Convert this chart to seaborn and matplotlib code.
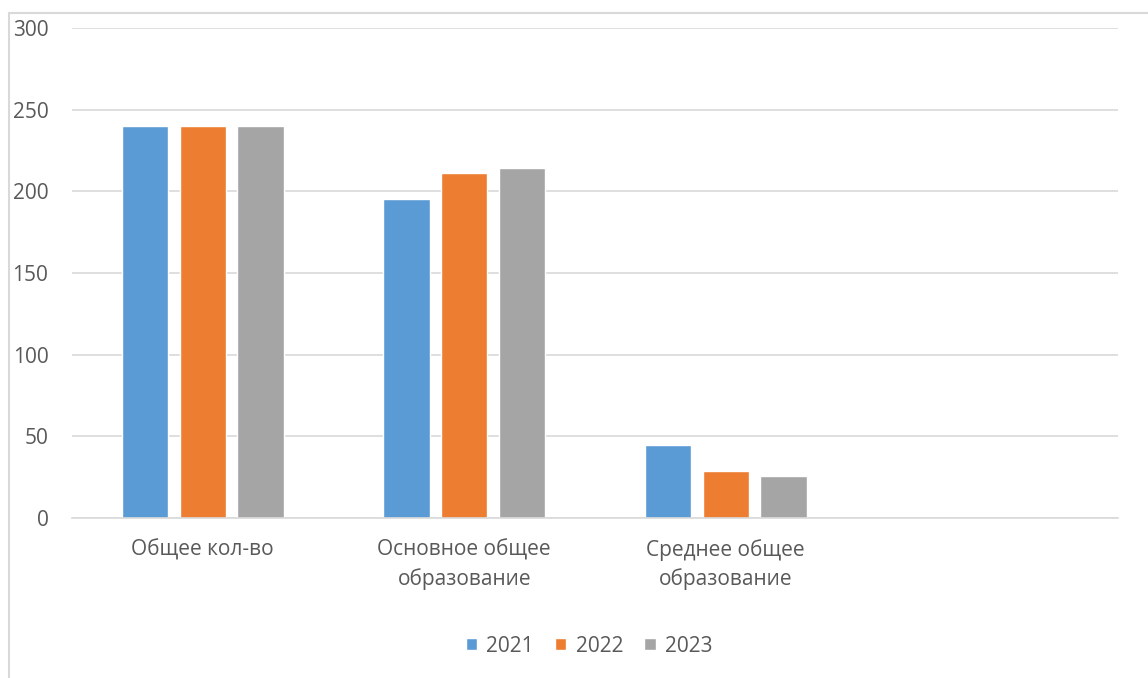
import pandas as pd
import seaborn as sns
import matplotlib.pyplot as plt
from matplotlib.lines import Line2D

categories = ["Общее кол-во", "Основное общее\nобразование", "Среднее общее\nобразование", ""]
years = ["2021", "2022", "2023"]
values_2021 = [240, 195, 45]
values_2022 = [240, 211, 29]
values_2023 = [240, 214, 26]
colors = ["#5b9bd5", "#ed7d31", "#a5a5a5"]

rows = []
for year, vals in zip(years, [values_2021, values_2022, values_2023]):
    for cat, v in zip(categories[:3], vals):
        rows.append({"category": cat, "year": year, "value": v})
df = pd.DataFrame(rows)

sns.set_theme(style="white")
plt.rcParams["font.family"] = ["Open Sans", "DejaVu Sans"]

fig = plt.figure(figsize=(11.48, 6.78), dpi=100)
ax = fig.add_axes([72 / 1148, 1 - 518 / 678, (1118 - 72) / 1148, (518 - 28) / 678])

sns.barplot(
    data=df, x="category", y="value", hue="year", order=categories,
    hue_order=years, palette=colors, width=0.663, gap=0.2,
    saturation=1, errorbar=None, ax=ax, legend=True,
)

ax.set_xlim(-0.5, 3.5)
ax.set_ylim(0, 300)
ax.set_yticks([0, 50, 100, 150, 200, 250, 300])
ax.grid(axis="y", color="#d9d9d9", linewidth=1.2)
ax.set_axisbelow(True)
for side in ["left", "right", "top"]:
    ax.spines[side].set_visible(False)
ax.spines["bottom"].set_color("#d9d9d9")
ax.spines["bottom"].set_linewidth(1.2)
ax.tick_params(axis="y", length=0, pad=17, labelsize=15, labelcolor="#595959")
ax.tick_params(axis="x", length=0, pad=15, labelsize=15, labelcolor="#595959")
for lbl in ax.get_xticklabels():
    lbl.set_linespacing(1.45)
ax.set_xlabel("")
ax.set_ylabel("")

handles, labels = ax.get_legend_handles_labels()
ax.get_legend().remove()
fig.legend(
    handles, labels, loc="center", bbox_to_anchor=(589 / 1148, 1 - 646 / 678),
    ncol=3, frameon=False, fontsize=15, labelcolor="#595959",
    handlelength=0.55, handleheight=0.55, handletextpad=0.45, columnspacing=1.0,
)

# light chart frame
fig.add_artist(Line2D([9 / 1148, 9 / 1148], [0, 1 - 13 / 678], color="#d9d9d9", linewidth=1.5))
fig.add_artist(Line2D([9 / 1148, 1], [1 - 13 / 678, 1 - 13 / 678], color="#d9d9d9", linewidth=1.5))

fig.savefig("out.png", dpi=100)
